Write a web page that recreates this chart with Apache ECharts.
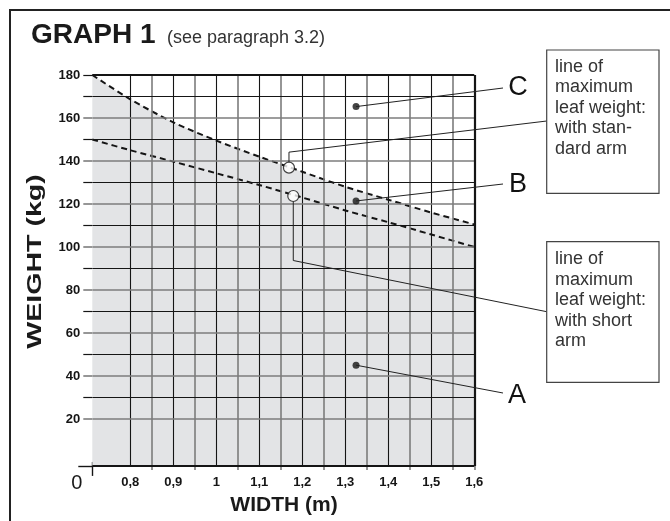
<!DOCTYPE html>
<html>
<head>
<meta charset="utf-8">
<script src="https://cdn.jsdelivr.net/npm/echarts@6/dist/echarts.min.js"></script>
<style>
  html, body { margin: 0; padding: 0; background: #fff; }
  #chart { width: 670px; height: 521px; }
</style>
</head>
<body>
<div id="chart"></div>
<script>
// Axis extents (the plot starts just left of 0,8 m and just below 0 kg)
const widthRange = [0.7116, 1.6];
const weightRange = [-1.9, 180];

// Grid / tick values
const widthLabelled = [0.8, 0.9, 1.0, 1.1, 1.2, 1.3, 1.4, 1.5, 1.6];
const widthHalfSteps = [0.85, 0.95, 1.05, 1.15, 1.25, 1.35, 1.45, 1.55];
const weightLabelled = [20, 40, 60, 80, 100, 120, 140, 160, 180];
const weightOddSteps = [30, 50, 70, 90, 110, 130, 150, 170];

// Maximum leaf weight with the standard arm (upper dashed line)
const stdArmWidth = [0.7116, 0.8, 0.9, 1.0, 1.1, 1.2, 1.3, 1.4, 1.5, 1.6];
const stdArmWeight = [180, 168.7, 158, 149.5, 142, 135, 128, 122, 116, 110.5];

// Maximum leaf weight with the short arm (lower dashed line)
const shortArmWidth = [0.7116, 0.8, 0.9, 1.0, 1.1, 1.2, 1.3, 1.4, 1.5, 1.6];
const shortArmWeight = [150, 145, 139.7, 134.3, 128.8, 123, 117, 111.5, 105.8, 100];

// Zone markers A, B, C
const zoneNames = ['A', 'B', 'C'];
const zoneWidth = [1.325, 1.325, 1.325];
const zoneWeight = [45, 121.4, 165.3];

// Open circles picking out each limit line (standard arm, short arm)
const ringWidth = [1.169, 1.179];
const ringWeight = [136.9, 123.7];

const FONT = "'Liberation Sans', Arial, Helvetica, sans-serif";
const DARK = '#151515';
const GREY = '#7c7c7c';

const pairs = (xs, ys) => xs.map((x, i) => [x, ys[i]]);
const fmtWidth = v => String(Math.round(v * 100) / 100).replace('.', ',');

const chart = echarts.init(document.getElementById('chart'), null, { renderer: 'canvas' });

// grid lines and the plot frame, drawn on top of the grey fill
const gridLines = []
  .concat(widthHalfSteps.map(v => ({ xAxis: v, lineStyle: { color: GREY, width: 1.6, type: 'solid' } })))
  .concat(widthLabelled.filter(v => v < widthRange[1]).map(v => ({ xAxis: v, lineStyle: { color: DARK, width: 1.1, type: 'solid' } })))
  .concat(weightLabelled.filter(v => v < weightRange[1]).map(v => ({ yAxis: v, lineStyle: { color: GREY, width: 1.6, type: 'solid' } })))
  .concat(weightOddSteps.map(v => ({ yAxis: v, lineStyle: { color: DARK, width: 1.1, type: 'solid' } })))
  .concat([
    { xAxis: widthRange[0], lineStyle: { color: DARK, width: 2.2, type: 'solid' } },
    { xAxis: widthRange[1], lineStyle: { color: DARK, width: 2.2, type: 'solid' } },
    { yAxis: weightRange[0], lineStyle: { color: DARK, width: 2.2, type: 'solid' } },
    { yAxis: weightRange[1], lineStyle: { color: DARK, width: 2.2, type: 'solid' } }
  ]);

const baseX = {
  type: 'value', min: widthRange[0], max: widthRange[1], position: 'bottom', offset: 0,
  axisLine: { show: false }, splitLine: { show: false }
};
const baseY = {
  type: 'value', min: weightRange[0], max: weightRange[1], position: 'left', offset: 0,
  axisLine: { show: false }, splitLine: { show: false }
};

chart.setOption({
  animation: false,
  backgroundColor: '#fff',
  grid: { left: 92.3, top: 75, right: 670 - 474.3, bottom: 521 - 466, containLabel: false, outerBoundsMode: 'none' },
  xAxis: [
    Object.assign({}, baseX, {
      axisTick: { show: true, customValues: widthHalfSteps.concat([widthRange[1]]), length: 8, lineStyle: { color: GREY, width: 1.6 } },
      axisLabel: { show: true, customValues: widthLabelled, margin: 10, formatter: fmtWidth,
        color: DARK, fontFamily: FONT, fontSize: 13, fontWeight: 'bold' }
    }),
    Object.assign({}, baseX, {
      axisTick: { show: true, customValues: [widthRange[0]], length: 14, lineStyle: { color: DARK, width: 1.4 } },
      axisLabel: { show: false }
    })
  ],
  yAxis: [
    Object.assign({}, baseY, {
      axisTick: { show: true, customValues: weightLabelled.filter(v => v < weightRange[1]), length: 9, lineStyle: { color: GREY, width: 1.6 } },
      axisLabel: { show: true, customValues: weightLabelled, margin: 12,
        color: DARK, fontFamily: FONT, fontSize: 13, fontWeight: 'bold' }
    }),
    Object.assign({}, baseY, {
      axisTick: { show: true, customValues: weightOddSteps.concat([weightRange[1]]), length: 9, lineStyle: { color: DARK, width: 1.2 } },
      axisLabel: { show: false }
    }),
    Object.assign({}, baseY, {
      axisTick: { show: true, customValues: [weightRange[0]], length: 14, lineStyle: { color: DARK, width: 1.4 } },
      axisLabel: { show: false }
    })
  ],
  series: [
    { // permitted region under the standard-arm limit
      name: 'area', type: 'line', z: 1, silent: true, smooth: 0.3,
      data: pairs(stdArmWidth, stdArmWeight), showSymbol: false,
      lineStyle: { width: 0 }, areaStyle: { color: '#e3e4e6', opacity: 1, origin: 'start' }
    },
    {
      name: 'grid', type: 'line', z: 2, silent: true, clip: false, data: [],
      markLine: { silent: true, symbol: ['none', 'none'], label: { show: false },
        emphasis: { disabled: true }, animation: false, data: gridLines }
    },
    {
      name: 'standard arm', type: 'line', z: 3, silent: true, smooth: 0.3, showSymbol: false,
      data: pairs(stdArmWidth, stdArmWeight),
      lineStyle: { color: DARK, width: 2, type: [6, 4] }
    },
    {
      name: 'short arm', type: 'line', z: 3, silent: true, smooth: 0.3, showSymbol: false,
      data: pairs(shortArmWidth, shortArmWeight),
      lineStyle: { color: DARK, width: 2, type: [6, 4] }
    },
    {
      name: 'zones', type: 'scatter', z: 5, silent: true, symbol: 'circle', symbolSize: 7,
      data: pairs(zoneWidth, zoneWeight), itemStyle: { color: DARK }
    },
    {
      name: 'rings', type: 'scatter', z: 5, silent: true, symbol: 'circle', symbolSize: 11,
      data: pairs(ringWidth, ringWeight),
      itemStyle: { color: '#fff', borderColor: DARK, borderWidth: 1.2 }
    }
  ]
});

// Call-outs: leader lines from the marks to the zone letters and the legend boxes
const px = p => chart.convertToPixel({ xAxisIndex: 0, yAxisIndex: 0 }, p);
const zonePx = pairs(zoneWidth, zoneWeight).map(px);
const ringPx = pairs(ringWidth, ringWeight).map(px);
const lineStyle = { stroke: '#222', lineWidth: 1, fill: null };

const letterPos = { A: [517, 396], B: [518, 185], C: [518, 88] };
const leaderEnd = { A: [503, 393], B: [503, 184], C: [503, 88] };

const graphics = [];

// outer frame (top and left edges)
graphics.push({ type: 'polyline', silent: true, shape: { points: [[10, 540], [10, 10], [690, 10]] },
  style: { stroke: '#222', lineWidth: 2, fill: null } });

// title
graphics.push({ type: 'text', silent: true, style: { text: 'GRAPH 1', x: 31, y: 35, verticalAlign: 'middle',
  font: 'bold 28px ' + FONT, fill: '#1a1a1a' } });
graphics.push({ type: 'text', silent: true, style: { text: '(see paragraph 3.2)', x: 167, y: 38, verticalAlign: 'middle',
  font: '18px ' + FONT, fill: '#333' } });

// axis titles and origin
graphics.push({ type: 'text', silent: true, x: 35, y: 261.5, rotation: Math.PI / 2, scaleX: 1.36,
  style: { text: 'WEIGHT (kg)', align: 'center', verticalAlign: 'middle', font: 'bold 21px ' + FONT, fill: '#1a1a1a' } });
graphics.push({ type: 'text', silent: true, style: { text: 'WIDTH (m)', x: 284, y: 505, align: 'center', verticalAlign: 'middle',
  font: 'bold 21px ' + FONT, fill: '#1a1a1a' } });
graphics.push({ type: 'text', silent: true, style: { text: '0', x: 76.7, y: 483, align: 'center', verticalAlign: 'middle',
  font: '20px ' + FONT, fill: '#1a1a1a' } });

// zone letters
zoneNames.forEach((name, i) => {
  graphics.push({ type: 'polyline', silent: true, z: 10, shape: { points: [zonePx[i], leaderEnd[name]] }, style: lineStyle });
  graphics.push({ type: 'text', silent: true, style: { text: name, x: letterPos[name][0], y: letterPos[name][1],
    align: 'center', verticalAlign: 'middle', font: '27px ' + FONT, fill: '#111' } });
});

// legend boxes
const boxes = [
  { rect: [546.7, 50, 112.3, 143.3], text: 'line of\nmaximum\nleaf weight:\nwith stan-\ndard arm', textTop: 56.4,
    leader: r => [[r[0], r[1] - 5.5], [r[0], r[1] - 15.5], [546.7, 121]], ring: 0 },
  { rect: [546.7, 241.7, 112.3, 140.6], text: 'line of\nmaximum\nleaf weight:\nwith short\narm', textTop: 248.7,
    leader: r => [[r[0], r[1] + 5.5], [r[0], 260.5], [546.7, 311.7]], ring: 1 }
];
boxes.forEach(b => {
  graphics.push({ type: 'polyline', silent: true, z: 10, shape: { points: b.leader(ringPx[b.ring]) }, style: lineStyle });
  graphics.push({ type: 'rect', silent: true, z: 11, shape: { x: b.rect[0], y: b.rect[1], width: b.rect[2], height: b.rect[3] },
    style: { fill: '#fff', stroke: '#444', lineWidth: 1.2 } });
  graphics.push({ type: 'text', silent: true, z: 12, style: { text: b.text, x: 555, y: b.textTop, verticalAlign: 'top',
    font: '18px ' + FONT, lineHeight: 20.6, fill: '#333' } });
});

chart.setOption({ graphic: graphics });
</script>
</body>
</html>
